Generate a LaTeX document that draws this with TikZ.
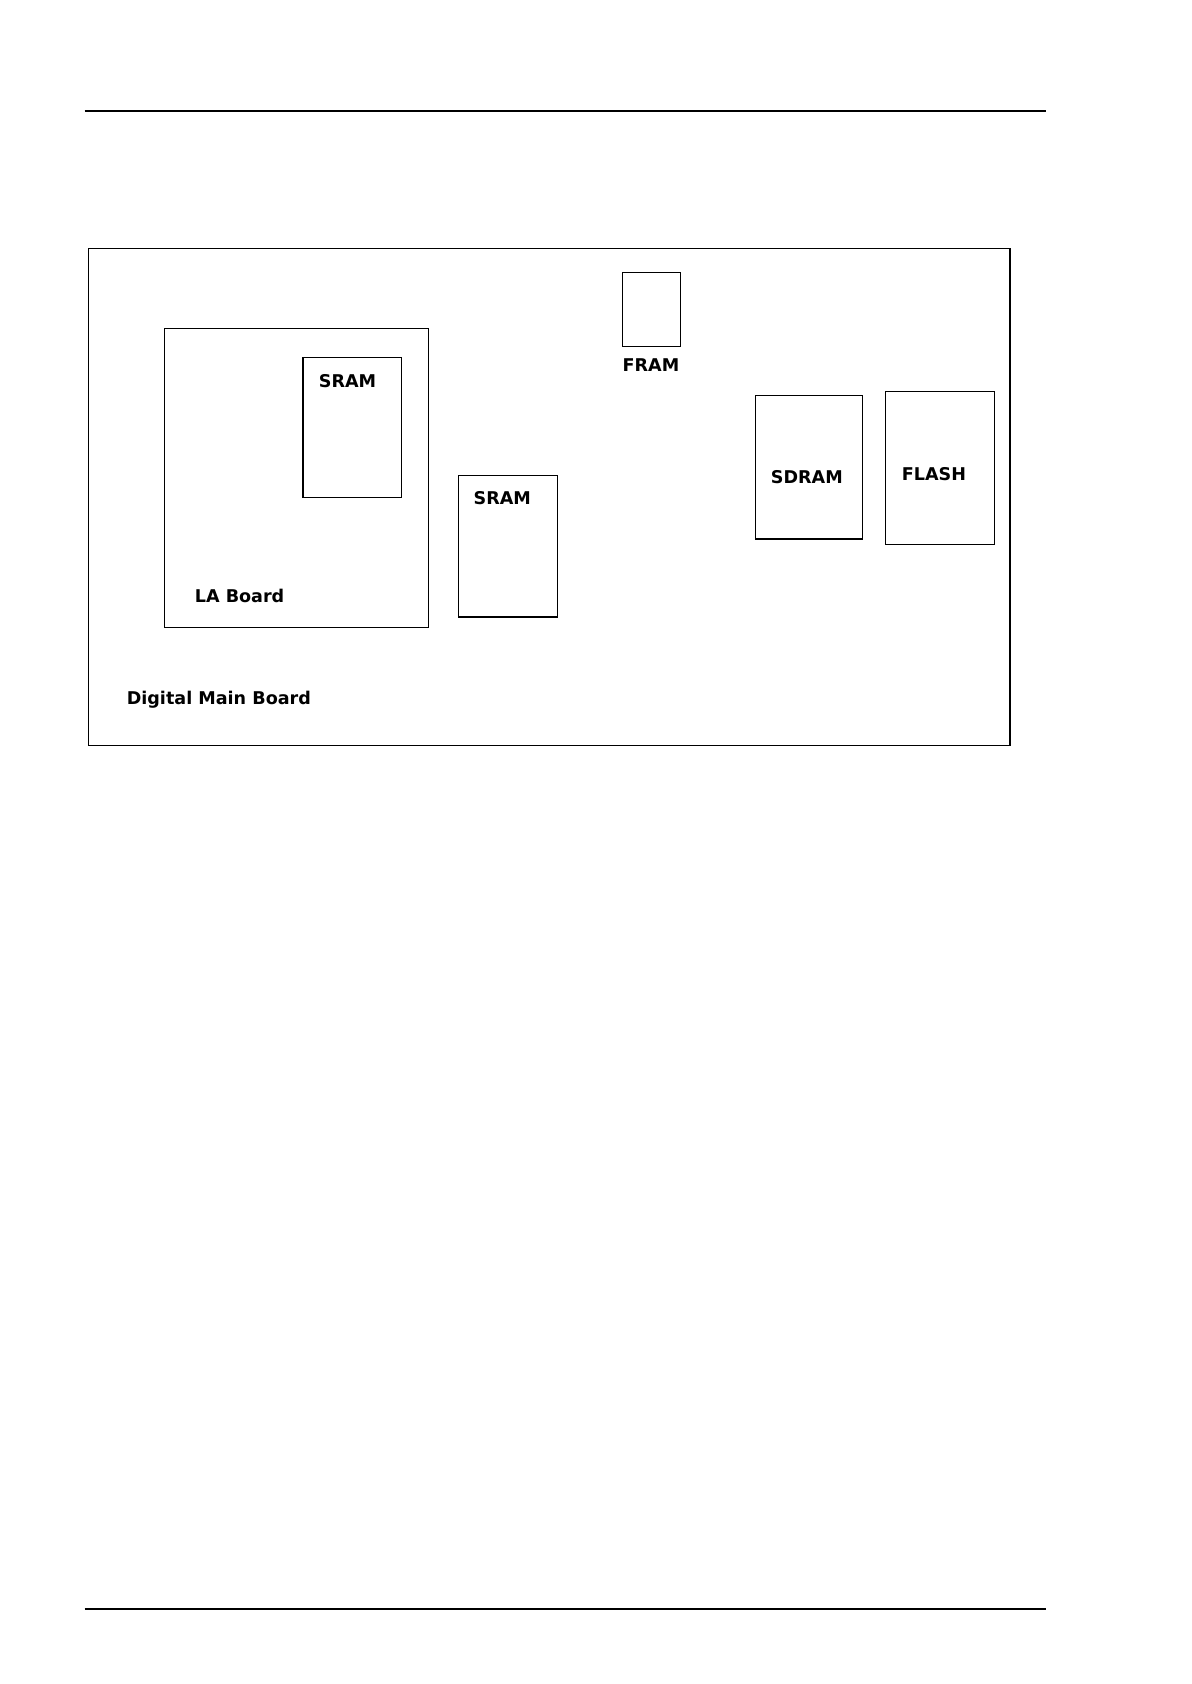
\documentclass[tikz,border=0pt]{standalone}
\usepackage{fontspec}
\setmainfont{DejaVu Sans}
\usetikzlibrary{positioning}

\begin{document}
\begin{tikzpicture}[x=0.5pt, y=-0.5pt, line width = 0.5 pt,
chip/.style={draw},
lbl/.style={font=\bfseries\fontsize{8}{9}\selectfont, inner sep=0pt}]

\useasboundingbox (0,0) rectangle (1085,1534);
\coordinate (tl) at (77,101);
\coordinate (tr) at (953,101);
\coordinate (bl) at (77,1466);
\coordinate (br) at (953,1466);
\draw[line width=0.8pt] (tl) -- (tr);
\draw[line width=0.8pt] (bl) -- (br);

% boards
\draw [chip] (81,226) rectangle (920,679);
\node [lbl, anchor=west] (main) at (115,637) {Digital Main Board};
\draw [chip] (150,299) rectangle (390,572);
\node [lbl, anchor=west] (la) at (177,543) {LA Board};

% memories
\draw [chip] (276,326) rectangle (366,453);
\node [lbl, anchor=west] (sramA) at (290,347) {SRAM};
\draw [chip] (418,433) rectangle (508,562);
\node [lbl, anchor=west] (sramB) at (431,454) {SRAM};
\draw [chip] (567,248) rectangle (620,316);
\node [lbl] (fram) at (593,333) {FRAM};
\draw [chip] (688,360) rectangle (786,491);
\node [lbl] (sdram) at (735,435) {SDRAM};
\draw [chip] (807,357) rectangle (906,496);
\node [lbl, anchor=west] (flash) at (821,432) {FLASH};

\end{tikzpicture}
\end{document}
